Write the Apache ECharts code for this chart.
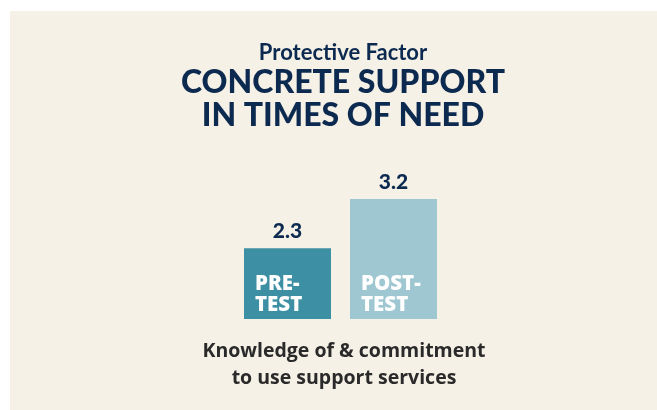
<!DOCTYPE html>
<html>
<head>
<meta charset="utf-8">
<style>
html,body{margin:0;padding:0;background:#ffffff;}
#chart{width:657px;height:410px;}
</style>
<script src="https://cdn.jsdelivr.net/npm/echarts@6/dist/echarts.min.js"></script>
</head>
<body>
<div id="chart"></div>
<script>
var categories = ['PRE-\nTEST', 'POST-\nTEST'];
var values = [2.3, 3.2];
var barColors = ['#3d8fa3', '#9fc7d2'];
var kicker = 'Protective Factor';
var heading = 'CONCRETE SUPPORT\nIN TIMES OF NEED';
var caption = 'Knowledge of & commitment\nto use support services';

var chart = echarts.init(document.getElementById('chart'), null, {renderer: 'canvas'});
var navy = '#0c2a4f';
var cx = 338;
chart.setOption({
  backgroundColor: '#ffffff',
  animation: false,
  graphic: [{
    type: 'rect', z: -10, silent: true,
    shape: {x: 10, y: 11, width: 647, height: 399},
    style: {fill: '#f6f1e7'}
  }],
  title: [
    {text: kicker, left: cx, textAlign: 'center', top: 37,
     textStyle: {fontFamily: 'Lato', fontWeight: 'bold', fontSize: 22, color: navy}},
    {text: heading, left: cx, textAlign: 'center', top: 61.5,
     textStyle: {fontFamily: 'Lato', fontWeight: 900, fontSize: 32, lineHeight: 33, color: navy}},
    {text: caption, left: cx + 1, textAlign: 'center', top: 332.5,
     textStyle: {fontFamily: 'Open Sans', fontWeight: 'bold', fontSize: 19.5, lineHeight: 27, color: '#2a2a2a'}}
  ],
  grid: {left: 234.5, width: 212, top: 155.5, height: 163.5, containLabel: false},
  xAxis: {type: 'category', data: categories, show: false},
  yAxis: {type: 'value', min: 1, max: 4, show: false},
  series: [
    {
      type: 'bar', barWidth: 87, z: 2,
      data: values.map(function (v, i) { return {value: v, itemStyle: {color: barColors[i]}}; }),
      label: {show: true, position: 'top', distance: 6,
        fontFamily: 'Lato', fontWeight: 900, fontSize: 21, color: navy,
        formatter: function (p) { return p.value.toFixed(1); }}
    },
    {
      type: 'bar', barWidth: 87, barGap: '-100%', z: 3,
      itemStyle: {color: 'rgba(0,0,0,0)'},
      data: values,
      label: {show: true, position: 'insideBottomLeft', distance: 3, offset: [8, 0],
        fontFamily: 'Open Sans', fontWeight: 800, fontSize: 20.5, lineHeight: 21, color: '#ffffff',
        formatter: function (p) { return categories[p.dataIndex]; }}
    }
  ]
});
</script>
</body>
</html>
